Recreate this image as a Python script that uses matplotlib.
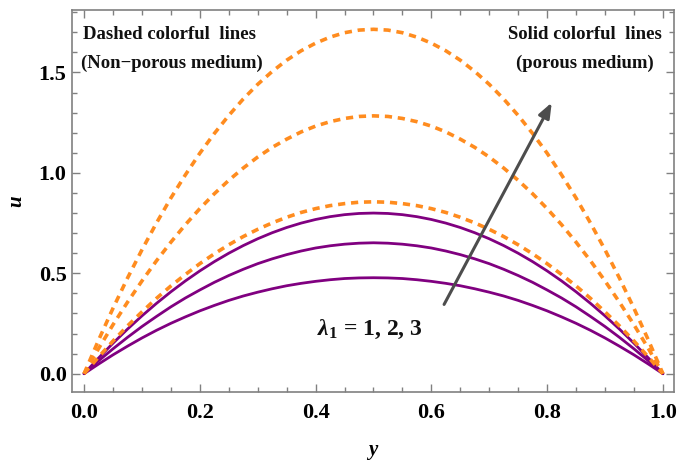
import matplotlib
matplotlib.use("Agg")
import matplotlib.pyplot as plt
from matplotlib.ticker import MultipleLocator

plt.rcParams['mathtext.fontset'] = 'custom'
plt.rcParams['mathtext.rm'] = 'Liberation Serif:bold'
plt.rcParams['mathtext.bf'] = 'Liberation Serif:bold'
plt.rcParams['mathtext.it'] = 'Liberation Serif:bold:italic'

# wall-normal coordinate
y = [0.000, 0.025, 0.050, 0.075, 0.100, 0.125, 0.150, 0.175, 0.200, 0.225, 0.250,
     0.275, 0.300, 0.325, 0.350, 0.375, 0.400, 0.425, 0.450, 0.475, 0.500,
     0.525, 0.550, 0.575, 0.600, 0.625, 0.650, 0.675, 0.700, 0.725, 0.750,
     0.775, 0.800, 0.825, 0.850, 0.875, 0.900, 0.925, 0.950, 0.975, 1.000]

# velocity profiles, non-porous medium (lambda_1 = 1, 2, 3)
u_np_1 = [0.000, 0.083, 0.163, 0.238, 0.308, 0.375, 0.437, 0.494, 0.548, 0.597, 0.642,
          0.683, 0.719, 0.751, 0.779, 0.803, 0.822, 0.837, 0.847, 0.854, 0.856,
          0.854, 0.847, 0.837, 0.822, 0.803, 0.779, 0.751, 0.719, 0.683, 0.642,
          0.597, 0.548, 0.494, 0.437, 0.375, 0.308, 0.238, 0.163, 0.083, 0.000]
u_np_2 = [0.000, 0.125, 0.244, 0.356, 0.462, 0.562, 0.655, 0.742, 0.822, 0.896, 0.963,
          1.024, 1.079, 1.127, 1.168, 1.204, 1.233, 1.255, 1.271, 1.281, 1.284,
          1.281, 1.271, 1.255, 1.233, 1.204, 1.168, 1.127, 1.079, 1.024, 0.963,
          0.896, 0.822, 0.742, 0.655, 0.562, 0.462, 0.356, 0.244, 0.125, 0.000]
u_np_3 = [0.000, 0.167, 0.326, 0.476, 0.617, 0.750, 0.875, 0.990, 1.098, 1.196, 1.286,
          1.368, 1.441, 1.505, 1.561, 1.608, 1.646, 1.676, 1.698, 1.711, 1.715,
          1.711, 1.698, 1.676, 1.646, 1.608, 1.561, 1.505, 1.441, 1.368, 1.286,
          1.196, 1.098, 0.990, 0.875, 0.750, 0.617, 0.476, 0.326, 0.167, 0.000]

# velocity profiles, porous medium (lambda_1 = 1, 2, 3)
u_p_1 = [0.000, 0.048, 0.094, 0.137, 0.178, 0.216, 0.251, 0.283, 0.313, 0.340, 0.365,
         0.387, 0.406, 0.423, 0.438, 0.450, 0.460, 0.468, 0.474, 0.477, 0.478,
         0.477, 0.474, 0.468, 0.460, 0.450, 0.438, 0.423, 0.406, 0.387, 0.365,
         0.340, 0.313, 0.283, 0.251, 0.216, 0.178, 0.137, 0.094, 0.048, 0.000]
u_p_2 = [0.000, 0.064, 0.124, 0.181, 0.235, 0.285, 0.333, 0.377, 0.417, 0.455, 0.489,
         0.520, 0.548, 0.572, 0.593, 0.611, 0.626, 0.637, 0.645, 0.650, 0.652,
         0.650, 0.645, 0.637, 0.626, 0.611, 0.593, 0.572, 0.548, 0.520, 0.489,
         0.455, 0.417, 0.377, 0.333, 0.285, 0.235, 0.181, 0.124, 0.064, 0.000]
u_p_3 = [0.000, 0.078, 0.152, 0.222, 0.288, 0.350, 0.408, 0.462, 0.512, 0.558, 0.600,
         0.638, 0.672, 0.702, 0.728, 0.750, 0.768, 0.782, 0.792, 0.798, 0.800,
         0.798, 0.792, 0.782, 0.768, 0.750, 0.728, 0.702, 0.672, 0.638, 0.600,
         0.558, 0.512, 0.462, 0.408, 0.350, 0.288, 0.222, 0.152, 0.078, 0.000]

ORANGE = '#ff8c1f'
PURPLE = '#800080'
SERIF = ['Liberation Serif', 'DejaVu Serif']

fig = plt.figure(figsize=(6.8, 4.66), dpi=100)
ax = fig.add_axes([0.106, 0.1588, 0.885, 0.8197])

for u in (u_p_1, u_p_2, u_p_3):
    ax.plot(y, u, color=PURPLE, lw=2.0, solid_capstyle='round')
for u in (u_np_1, u_np_2, u_np_3):
    ax.plot(y, u, color=ORANGE, lw=2.6, dashes=(2.0, 1.6))

ax.set_xlim(-0.0207, 1.019)
ax.set_ylim(-0.091, 1.811)

ax.xaxis.set_major_locator(MultipleLocator(0.2))
ax.xaxis.set_minor_locator(MultipleLocator(0.05))
ax.yaxis.set_major_locator(MultipleLocator(0.5))
ax.yaxis.set_minor_locator(MultipleLocator(0.1))
ax.tick_params(which='both', direction='in', top=True, right=True, color='#808080', width=1.0)
ax.tick_params(which='major', length=6)
ax.tick_params(which='minor', length=3.5)
ax.tick_params(axis='x', which='major', pad=8)
ax.tick_params(axis='y', which='major', pad=4)
for spine in ax.spines.values():
    spine.set_color('#808080')
    spine.set_linewidth(1.2)

ax.set_xticklabels([f'{v:.1f}' for v in ax.get_xticks()])
ax.set_yticklabels([f'{v:.1f}' for v in ax.get_yticks()])
for lab in ax.get_xticklabels() + ax.get_yticklabels():
    lab.set_fontfamily(SERIF)
    lab.set_fontweight('bold')
    lab.set_fontsize(16)

ax.set_xlabel('y', fontfamily=SERIF, fontstyle='italic', fontweight='bold', fontsize=15, labelpad=12)
ax.set_ylabel('u', fontfamily=SERIF, fontstyle='italic', fontweight='bold', fontsize=15, labelpad=9)

txt = dict(fontfamily=SERIF, fontweight='bold', fontsize=13.5, color='#111111')
ax.text(-0.002, 1.69, 'Dashed colorful  lines', ha='left', va='center', **txt)
ax.text(-0.005, 1.545, '(Non\u2212porous medium)', ha='left', va='center', **txt)
ax.text(0.865, 1.69, 'Solid colorful  lines', ha='center', va='center', **txt)
ax.text(0.865, 1.545, '(porous medium)', ha='center', va='center', **txt)

ax.annotate('', xy=(0.808, 1.35), xytext=(0.622, 0.345),
            arrowprops=dict(arrowstyle='-|>,head_length=0.9,head_width=0.35',
                            color='#4d4d4d', lw=2.2, shrinkA=0, shrinkB=0))
ax.text(0.494, 0.222, r'$\lambda_1$ = 1, 2, 3', ha='center', va='center',
        fontfamily=SERIF, fontweight='bold', fontsize=17, color='#111111')

fig.savefig('out.png', dpi=100)
